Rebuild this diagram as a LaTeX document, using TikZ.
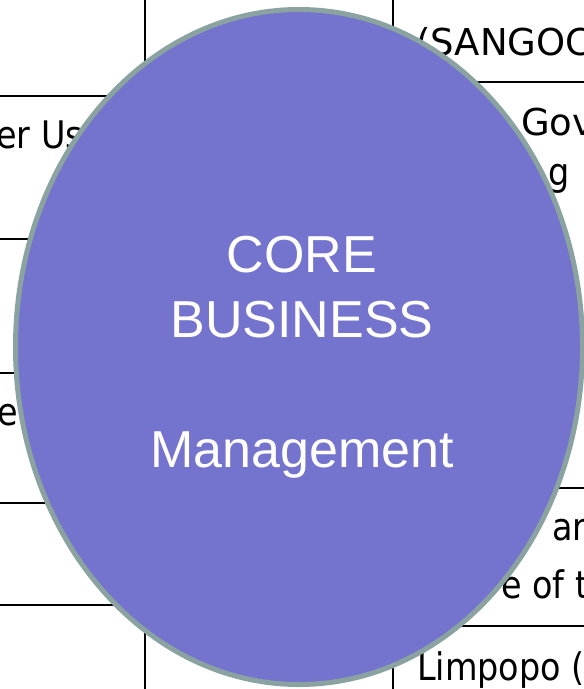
\documentclass[tikz,border=0pt]{standalone}
\usepackage{fontspec}
\setmainfont{Liberation Sans}
\newfontfamily\cellfont[FakeStretch=0.88]{DejaVu Sans}
\newfontfamily\cellfontfull{DejaVu Sans}
\usetikzlibrary{shapes.geometric}
\definecolor{ellfill}{RGB}{116,116,206}
\definecolor{ellborder}{RGB}{138,162,160}
\tikzset{
  rule/.style={draw=black,line width=2pt},
  celltext/.style={anchor=base west,inner sep=0pt,font=\cellfont\fontsize{38}{46}\selectfont,text=black},
  capstext/.style={celltext,font=\cellfontfull\fontsize{37}{46}\selectfont},
  core/.style={ellipse,draw=ellborder,fill=ellfill,line width=5pt,minimum width=567pt,minimum height=675pt,inner sep=0pt}
}
\begin{document}
\begin{tikzpicture}[x=1pt,y=-1pt]
\useasboundingbox (0,0) rectangle (584,689);
\clip (0,0) rectangle (584,689);
% table lines
\coordinate (l1a) at (145,0); \coordinate (l1b) at (145,80);
\coordinate (h1a) at (0,96); \coordinate (h1b) at (150,96);
\coordinate (h2a) at (0,239); \coordinate (h2b) at (60,239);
\coordinate (h3a) at (0,373); \coordinate (h3b) at (40,373);
\coordinate (h4a) at (0,503); \coordinate (h4b) at (60,503);
\coordinate (h5a) at (0,605); \coordinate (h5b) at (150,605);
\coordinate (l2a) at (145,610); \coordinate (l2b) at (145,689);
\coordinate (r1a) at (393,0); \coordinate (r1b) at (393,40);
\coordinate (g1a) at (450,82); \coordinate (g1b) at (584,82);
\coordinate (g2a) at (540,488); \coordinate (g2b) at (584,488);
\coordinate (g3a) at (430,626); \coordinate (g3b) at (584,626);
\coordinate (r2a) at (393,650); \coordinate (r2b) at (393,689);
\foreach \a/\b in {l1a/l1b,h1a/h1b,h2a/h2b,h3a/h3b,h4a/h4b,h5a/h5b,l2a/l2b,r1a/r1b,g1a/g1b,g2a/g2b,g3a/g3b,r2a/r2b}
  \draw[rule] (\a) -- (\b);
% cell texts (partly hidden)
\node[celltext] (t1) at (-4,148) {er Us};
\node[capstext] (t2) at (416,55) {(SANGOC};
\node[capstext] (t3) at (521,135) {Gov};
\node[celltext] (t4) at (548,185) {g};
\node[celltext] (t5) at (-3,425) {e};
\node[celltext] (t6) at (552,540) {ar};
\node[celltext] (t7) at (501,598) {e of t};
\node[celltext] (t8) at (417,680) {Limpopo (};
% central ellipse
\node[core] (ell) at (299,347) {};
\node[align=center,text=white,font=\fontsize{52}{65}\selectfont,anchor=base,inner sep=0pt] (txt) at (302,467) {CORE\\BUSINESS\\[0pt]~\\Management};
\end{tikzpicture}
\end{document}
